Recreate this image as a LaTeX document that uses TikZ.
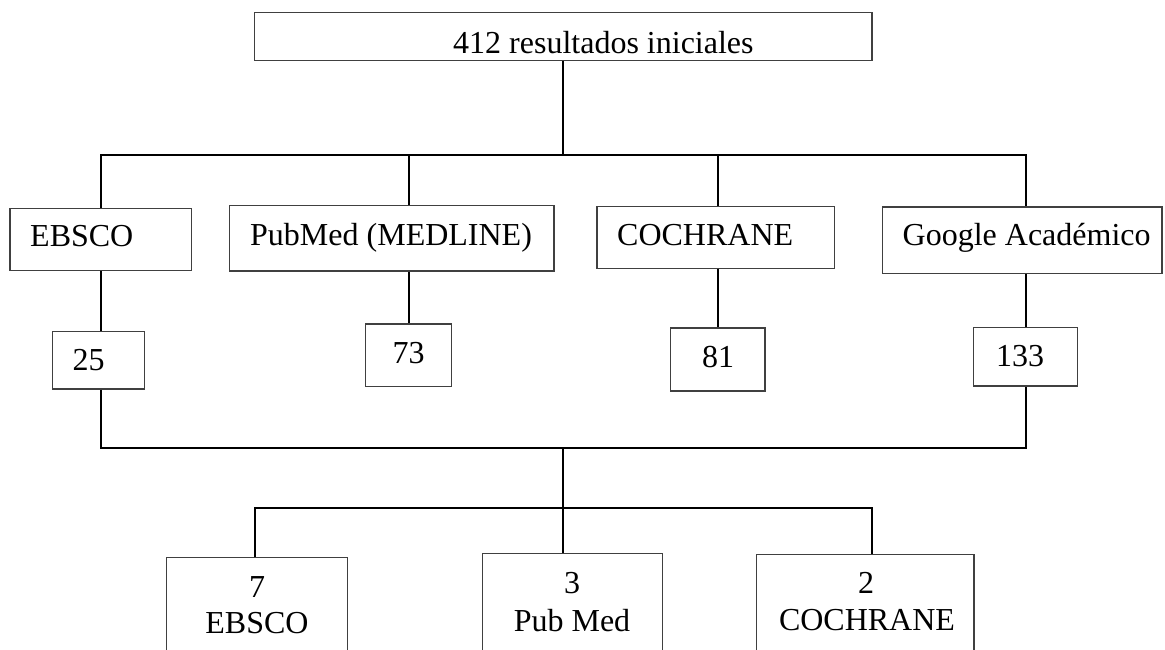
\documentclass[tikz,border=0pt]{standalone}
\usepackage{fontspec}
\setmainfont{Liberation Serif}
\newcommand\diafont{\fontsize{32}{36}\selectfont}
\begin{document}
\begin{tikzpicture}[x=1pt,y=-1pt,
  box/.style={draw=black!75, line width=1.1pt, inner sep=0pt, fill=white},
  conn/.style={line width=2pt, black},
  txt/.style={inner sep=0pt, font=\diafont, anchor=base west},
  txtc/.style={inner sep=0pt, font=\diafont, anchor=base},
  lowbox/.style={box, anchor=north, minimum height=110pt}]
\useasboundingbox[fill=white] (0,0) rectangle (1165,649);
% coordinates of horizontal bars
\coordinate (bar1) at (0,155);
\coordinate (bar2) at (0,447.7);
\coordinate (b3l) at (255,508);
\coordinate (b3r) at (872,508);
% boxes
\node[box, minimum width=617.3pt, minimum height=48pt] (top) at (563.35,36.7) {};
\node[box, minimum width=181.7pt, minimum height=62.4pt] (ebsco) at (100.85,239.5) {};
\node[box, minimum width=324.4pt, minimum height=65.7pt] (pubmed) at (391.8,238.15) {};
\node[box, minimum width=237.7pt, minimum height=61.6pt] (cochrane) at (715.85,237.5) {};
\node[box, minimum width=279.3pt, minimum height=66.3pt] (google) at (1022.35,240.15) {};
\node[box, minimum width=91.6pt, minimum height=57.3pt] (n25) at (98.5,360.35) {};
\node[box, minimum width=85.6pt, minimum height=62.7pt] (n73) at (408.5,355.35) {};
\node[box, minimum width=94.3pt, minimum height=63pt] (n81) at (717.85,359.5) {};
\node[box, minimum width=104.4pt, minimum height=58.7pt] (n133) at (1025.5,356.65) {};
\node[lowbox, minimum width=181pt] (eb2) at (257.2,557.3) {};
\node[lowbox, minimum width=180.4pt] (pm2) at (572.5,552.7) {};
\node[lowbox, minimum width=217.3pt] (cb2) at (865.35,554) {};
% texts
\node[txt] (ttop) at (453,53) {412 resultados iniciales};
\node[txt] (tebsco) at (30,246.7) {EBSCO};
\node[txt] (tpubmed) at (250,245) {PubMed (MEDLINE)};
\node[txt] (tcochrane) at (617,245) {COCHRANE};
\node[txt] (tgoogle) at (902.5,245) {Google Académico};
\node[txt] (t25) at (72.5,370) {25};
\node[txt] (t73) at (392.5,363) {73};
\node[txt] (t81) at (702,367) {81};
\node[txt] (t133) at (996,366) {133};
\node[txtc] (t7) at (257,597) {7};
\node[txtc] (tebsco2) at (257,633) {EBSCO};
\node[txtc] (t3) at (572,593) {3};
\node[txtc] (tpubmed2) at (572,631.5) {Pub Med};
\node[txtc] (t2) at (866,593) {2};
\node[txtc] (tcochrane2) at (867,630) {COCHRANE};
% connectors
\draw[conn] (top.south) -- (top.south |- bar1);
\draw[conn] (ebsco.north) |- (n133 |- bar1) -- (google.north -| n133);
\draw[conn] (pubmed.north -| n73) -- (n73 |- bar1);
\draw[conn] (cochrane.north -| n81) -- (n81 |- bar1);
\draw[conn] (ebsco.south) -- (ebsco.south |- n25.north);
\draw[conn] (pubmed.south -| n73) -- (n73.north);
\draw[conn] (cochrane.south -| n81) -- (n81.north);
\draw[conn] (google.south -| n133) -- (n133.north);
\draw[conn] (n25.south -| ebsco) |- (n133 |- bar2) -- (n133.south);
\draw[conn] (top.south |- bar2) -- (pm2.north -| top.south);
\draw[conn] (eb2.north -| b3l) |- (b3r) -- (cb2.north -| b3r);
\end{tikzpicture}
\end{document}
